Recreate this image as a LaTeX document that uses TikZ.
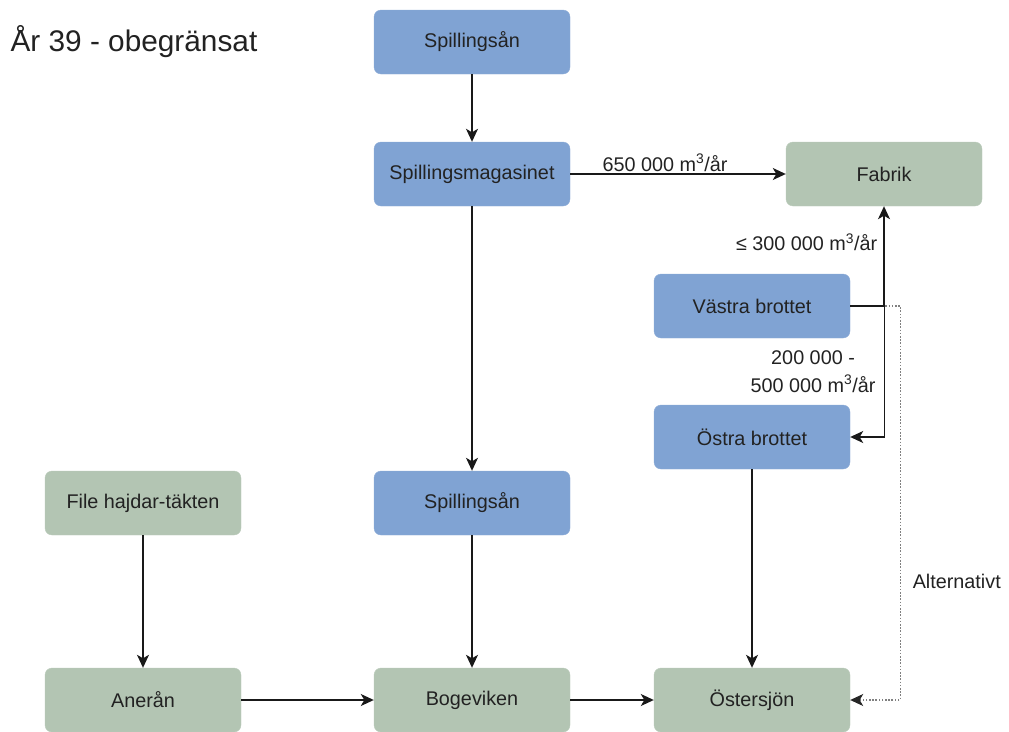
\documentclass[tikz,border=0pt]{standalone}
\usepackage{fontspec}
\setmainfont{Liberation Sans}
\usetikzlibrary{arrows.meta}
\definecolor{boxblue}{HTML}{80A3D3}
\definecolor{boxgreen}{HTML}{B3C5B3}
\definecolor{txt}{HTML}{222222}
\tikzset{
  box/.style={rounded corners=7pt, minimum width=196pt, minimum height=64pt, inner sep=0pt,
    text=txt, font=\fontsize{19.8}{24}\selectfont},
  bluebox/.style={box, fill=boxblue, draw=boxblue!90!white},
  greenbox/.style={box, fill=boxgreen, draw=boxgreen!90!white},
  arr/.style={line width=1.4pt, draw=black!90, -{Stealth[length=13pt,width=12pt,inset=3.5pt]}},
  altarr/.style={line width=1.1pt, draw=black!50, dash pattern=on 1.6pt off 1.6pt, -{Stealth[length=13pt,width=12pt,inset=3.5pt,color=black!85,fill=black!85]}},
  lbl/.style={text=txt, font=\fontsize{19.8}{28}\selectfont, inner sep=2pt}
}
\begin{document}
\begin{tikzpicture}[x=1pt, y=-1pt]
\useasboundingbox (0,0) rectangle (1009,731);
\node[anchor=west, text=txt, font=\fontsize{29.8}{34}\selectfont] (title) at (7,42) {År 39 - obegränsat};

\node[bluebox] (sp1) at (472,42) {Spillingsån};
\node[bluebox] (mag) at (472,174) {Spillingsmagasinet};
\node[greenbox] (fab) at (884,174) {Fabrik};
\node[bluebox] (vas) at (752,306) {Västra brottet};
\node[bluebox] (ost) at (752,437) {Östra brottet};
\node[greenbox] (file) at (143,503) {File hajdar-täkten};
\node[bluebox] (sp2) at (472,503) {Spillingsån};
\node[greenbox] (ane) at (143,700) {Anerån};
\node[greenbox] (bog) at (472,700) {Bogeviken};
\node[greenbox] (oster) at (752,700) {Östersjön};

\draw[arr] (sp1) -- (mag);
\draw[arr] (mag) -- node[lbl, above, pos=0.44] {650 000 m\textsuperscript{3}/år} (fab);
\draw[arr] (mag) -- (sp2);
\draw[altarr] (vas.east) -| node[lbl, right, pos=0.85, xshift=10pt] {Alternativt} ([xshift=50pt]oster.east) -- (oster.east);
\draw[arr] (vas.east) -| node[lbl, anchor=east, pos=0.82, xshift=-4pt] {≤ 300 000 m\textsuperscript{3}/år} (fab.south);
\draw[arr] (vas.east) -| node[lbl, anchor=east, align=center, pos=0.75, xshift=-6pt] {200 000 -\\500 000 m\textsuperscript{3}/år} ([xshift=34pt]ost.east) -- (ost.east);
\draw[arr] (ost) -- (oster);
\draw[arr] (file) -- (ane);
\draw[arr] (sp2) -- (bog);
\draw[arr] (ane) -- (bog);
\draw[arr] (bog) -- (oster);
\end{tikzpicture}
\end{document}
